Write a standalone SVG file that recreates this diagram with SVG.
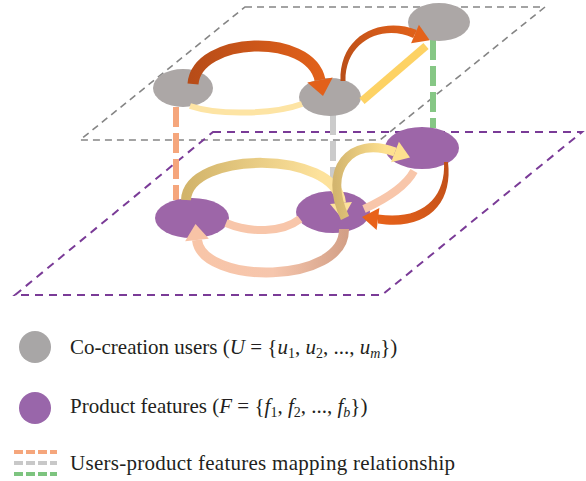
<svg xmlns="http://www.w3.org/2000/svg" width="586" height="481" viewBox="0 0 586 481">
  <defs>
    <linearGradient id="gU1" gradientUnits="userSpaceOnUse" x1="190" y1="0" x2="330" y2="0">
      <stop offset="0" stop-color="#b74c18"/>
      <stop offset="1" stop-color="#e4621a"/>
    </linearGradient>
    <linearGradient id="gU2" gradientUnits="userSpaceOnUse" x1="343" y1="80" x2="425" y2="30">
      <stop offset="0" stop-color="#b94e18"/>
      <stop offset="1" stop-color="#e4621a"/>
    </linearGradient>
    <linearGradient id="gF1" gradientUnits="userSpaceOnUse" x1="186" y1="0" x2="320" y2="0">
      <stop offset="0" stop-color="#d2b46a"/>
      <stop offset="1" stop-color="#fde29c"/>
    </linearGradient>
    <linearGradient id="gF2" gradientUnits="userSpaceOnUse" x1="200" y1="0" x2="346" y2="0">
      <stop offset="0" stop-color="#f8c5a8"/>
      <stop offset="0.5" stop-color="#f6c6ad"/>
      <stop offset="1" stop-color="#d3a087"/>
    </linearGradient>
    <linearGradient id="gF3" gradientUnits="userSpaceOnUse" x1="335" y1="0" x2="385" y2="0">
      <stop offset="0" stop-color="#d3b56e"/>
      <stop offset="1" stop-color="#fde08f"/>
    </linearGradient>
    <linearGradient id="gF4" gradientUnits="userSpaceOnUse" x1="446" y1="163" x2="372" y2="218">
      <stop offset="0" stop-color="#bf4f19"/>
      <stop offset="1" stop-color="#e8621a"/>
    </linearGradient>
  </defs>
  <style>
    .plane-top{fill:none;stroke:#858585;stroke-width:1.6;stroke-dasharray:7 5}
    .plane-bot{fill:none;stroke:#7a3b97;stroke-width:2;stroke-dasharray:8 6}
    .user{fill:#aca7a6}
    .feat{fill:#9d66a8}
    .map{fill:none;stroke-width:6;stroke-dasharray:20 6}
    .band{fill:none;stroke-linecap:butt}
    .label{font-family:"Liberation Serif","Times New Roman",serif;font-size:21px;fill:#231f20}
    .i{font-style:italic}
    .sub{font-size:14px}
    .key{fill:none;stroke-width:4;stroke-dasharray:9 3}
  </style>

  <!-- layer planes -->
  <g id="plane-users">
    <polygon class="plane-top" points="245,7 545,7 380,140 80,140"/>
  </g>
  <g id="plane-features">
    <polygon class="plane-bot" points="213,132 582,132 382,295 15,295"/>
  </g>

  <!-- mapping relationships between the two layers -->
  <g id="mapping">
    <line class="map" x1="176" y1="107" x2="176" y2="200" stroke="#f5a67c"/>
    <line class="map" x1="333" y1="115" x2="333" y2="192" stroke="#cbcbcb"/>
    <line class="map" x1="433" y1="40" x2="433" y2="128" stroke="#86c785"/>
  </g>

  <!-- user nodes -->
  <g id="user-1"><ellipse class="user" cx="183" cy="88" rx="30" ry="19"/></g>
  <g id="user-2"><ellipse class="user" cx="330" cy="97" rx="31" ry="19"/></g>
  <g id="user-3"><ellipse class="user" cx="439" cy="22" rx="31" ry="19"/></g>

  <!-- product feature nodes -->
  <g id="feature-1"><ellipse class="feat" cx="192" cy="218" rx="37" ry="20"/></g>
  <g id="feature-2"><ellipse class="feat" cx="333" cy="212" rx="37" ry="21"/></g>
  <g id="feature-3"><ellipse class="feat" cx="422" cy="148" rx="37" ry="21"/></g>

  <!-- interactions -->
  <g id="connectors">
    <!-- user layer -->
    <path class="band" d="M190,106 C220,116 275,114 302,104" stroke="#fde4a4" stroke-width="6"/>
    <path class="band" d="M362,101 L426,46" stroke="#fdd264" stroke-width="8"/>
    <path class="band" d="M193,84 C197,36 310,32 320,80" stroke="url(#gU1)" stroke-width="11"/>
    <polygon points="307.3,82.5 332.7,77.5 323,96" fill="#e2601a"/>
    <path d="M340.5,81 C339,36 380,16 416.8,29.9 L413.2,38.1 C384,24 345,40 345.5,81 Z" fill="url(#gU2)"/>
    <polygon points="411.1,43.2 418.9,24.8 429.7,40.2" fill="#e4621a"/>

    <!-- feature layer -->
    <path class="band" d="M226,223 C250,233 282,233 300,219" stroke="#f8c6aa" stroke-width="8"/>
    <path class="band" d="M364,209 C388,198 406,186 414,171" stroke="#f8c6aa" stroke-width="8"/>
    <path class="band" d="M344,229 C345,285 202,285 197,240" stroke="url(#gF2)" stroke-width="10"/>
    <polygon points="208.9,238.8 185.1,241.2 195.5,224" fill="#f8c3a6"/>
    <path class="band" d="M186,200 C188,150 336,150 341,203" stroke="url(#gF1)" stroke-width="10"/>
    <polygon points="330,204 352,202 342.5,219" fill="#fde29c"/>
    <path class="band" d="M345,218 C322,170 350,135 395,152" stroke="url(#gF3)" stroke-width="9"/>
    <polygon points="391.1,162.3 398.9,141.7 410,157.6" fill="#fde08f"/>
    <path d="M444,162 L448,162 C453,203 428,231 378,223.5 L378,214.5 C422,221 446,198 444,162 Z" fill="url(#gF4)"/>
    <polygon points="379.4,208.1 376.6,229.9 362,217" fill="#e8621a"/>
  </g>

  <!-- legend -->
  <g id="legend">
    <circle cx="35" cy="347" r="16" fill="#a8a6a6"/>
    <text class="label" x="70" y="354">Co-creation users (<tspan class="i">U</tspan> = {<tspan class="i">u</tspan><tspan class="sub" dy="4">1</tspan><tspan dy="-4">, </tspan><tspan class="i">u</tspan><tspan class="sub" dy="4">2</tspan><tspan dy="-4">, ..., </tspan><tspan class="i">u</tspan><tspan class="sub i" dy="4">m</tspan><tspan dy="-4">})</tspan></text>

    <circle cx="35" cy="408" r="16" fill="#9966aa"/>
    <text class="label" x="70" y="413">Product features (<tspan class="i">F</tspan> = {<tspan class="i">f</tspan><tspan class="sub" dy="4">1</tspan><tspan dy="-4">, </tspan><tspan class="i">f</tspan><tspan class="sub" dy="4">2</tspan><tspan dy="-4">, ..., </tspan><tspan class="i">f</tspan><tspan class="sub i" dy="4">b</tspan><tspan dy="-4">})</tspan></text>

    <line class="key" x1="14" y1="452" x2="57" y2="452" stroke="#f5a67c"/>
    <line class="key" x1="14" y1="463" x2="57" y2="463" stroke="#c8c8c8"/>
    <line class="key" x1="14" y1="474" x2="57" y2="474" stroke="#7dc47f"/>
    <text class="label" x="70" y="470" textLength="385" lengthAdjust="spacing">Users-product features mapping relationship</text>
  </g>
</svg>
